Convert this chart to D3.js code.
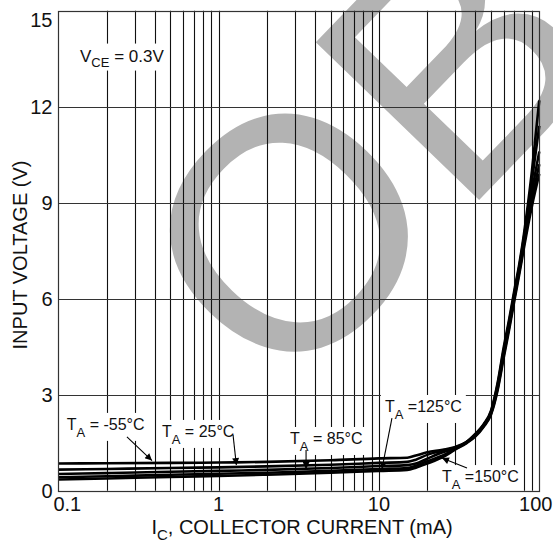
<!DOCTYPE html>
<html>
<head>
<meta charset="utf-8">
<script src="https://cdn.jsdelivr.net/npm/d3@7"></script>
<style>
  body { margin: 0; background: #fff; }
  svg { display: block; font-family: "Liberation Sans", Arial, sans-serif; }
</style>
</head>
<body>
<div id="chart"></div>
<script>
// collector current (mA) sample points
var currents = [0.1, 0.2, 0.5, 1, 2, 5, 10, 15, 17, 20, 25, 30, 35, 40, 45, 50, 55, 60, 65, 70, 75, 80, 90, 100];

// input voltage (V) per temperature
var vMinus55 = [0.85, 0.86, 0.87, 0.88, 0.90, 0.95, 1.01, 1.03, 1.10, 1.20, 1.28, 1.37, 1.52, 1.78, 2.08, 2.50, 3.38, 4.48, 5.38, 6.28, 7.08, 7.98, 10.0, 12.2];
var v25 = [0.66, 0.68, 0.71, 0.73, 0.76, 0.81, 0.87, 0.90, 0.97, 1.12, 1.25, 1.35, 1.51, 1.76, 2.06, 2.47, 3.32, 4.40, 5.30, 6.20, 7.00, 7.88, 9.7, 11.4];
var v85 = [0.52, 0.55, 0.59, 0.62, 0.65, 0.71, 0.77, 0.80, 0.85, 1.00, 1.20, 1.33, 1.50, 1.74, 2.04, 2.44, 3.26, 4.32, 5.22, 6.12, 6.92, 7.76, 9.35, 10.6];
var v125 = [0.42, 0.45, 0.50, 0.53, 0.56, 0.62, 0.68, 0.71, 0.78, 0.92, 1.10, 1.31, 1.49, 1.72, 2.02, 2.41, 3.20, 4.24, 5.14, 6.04, 6.84, 7.66, 9.1, 10.2];
var v150 = [0.35, 0.38, 0.43, 0.46, 0.50, 0.56, 0.62, 0.65, 0.72, 0.85, 1.05, 1.29, 1.48, 1.70, 2.00, 2.38, 3.15, 4.16, 5.06, 5.96, 6.76, 7.56, 8.9, 9.9];

var series = [vMinus55, v25, v85, v125, v150];

var xTicks = [0.1, 1, 10, 100];
var xTickLabels = ["0.1", "1", "10", "100"];
var yTicks = [0, 3, 6, 9, 12, 15];

// annotation labels: [text, sub, rest, labelI, labelV, tailI, tailV, tipI, tipV]
var tempLabels = [
    ["T", "A", " = -55°C", 0.113, 1.90, 0.268, 1.68, 0.384, 0.94],
    ["T", "A", " = 25°C", 0.443, 1.68, 1.23, 1.74, 1.29, 0.80],
    ["T", "A", " = 85°C", 2.79, 1.46, 3.51, 1.27, 3.51, 0.68],
    ["T", "A", " =125°C", 10.9, 2.46, 12.05, 2.27, 10.44, 0.68],
    ["T", "A", " =150°C", 24.7, 0.27, 35.4, 0.71, 24.7, 1.02]
];

var width = 553,
    height = 542;

var x = d3.scaleLog().domain([0.1, 100]).range([58.3, 539.3]);
var y = d3.scaleLinear().domain([0, 15]).range([490.7, 10.7]);

var svg = d3.select("#chart")
    .append("svg")
    .attr("width", width)
    .attr("height", height);

function crisp(v) { return Math.round(v) + 0.5; }

// watermark
svg.append("text")
    .attr("transform", "translate(282,404) rotate(-46)")
    .style("font-size", "330px")
    .style("fill", "#b3b3b3")
    .text("OBSOLETE");

// grid
var vGrid = [];
[0.1, 1, 10].forEach(function (d) {
    for (var k = 2; k <= 9; k++) vGrid.push(d * k);
});
vGrid.push(1, 10);

svg.append("g").selectAll("line")
    .data(vGrid)
    .enter().append("line")
    .attr("x1", d => crisp(x(d)))
    .attr("x2", d => crisp(x(d)))
    .attr("y1", y(15))
    .attr("y2", y(0))
    .attr("stroke", "#111")
    .attr("stroke-width", 1.1);

svg.append("g").selectAll("line")
    .data([3, 6, 9, 12])
    .enter().append("line")
    .attr("x1", x(0.1))
    .attr("x2", x(100))
    .attr("y1", d => crisp(y(d)))
    .attr("y2", d => crisp(y(d)))
    .attr("stroke", "#333")
    .attr("stroke-width", 1.1);

// labels group (white boxes behind text)
var labelG = svg.append("g");

function addLabel(main, sub, rest, px, py, size, subSize, subDy) {
    var g = labelG.append("g");
    var t = g.append("text")
        .attr("x", px)
        .attr("y", py)
        .style("font-size", size + "px")
        .style("fill", "#111");
    t.append("tspan").text(main);
    t.append("tspan").attr("dy", subDy).style("font-size", subSize + "px").text(sub);
    t.append("tspan").attr("dy", -subDy).text(rest);
    var bb = t.node().getBBox();
    g.insert("rect", "text")
        .attr("x", bb.x - 4)
        .attr("y", bb.y - 3)
        .attr("width", bb.width + 8)
        .attr("height", bb.height + 4)
        .attr("fill", "#fff");
}

addLabel("V", "CE", " = 0.3V", x(0.1366), y(13.41), 17, 13, 5);

tempLabels.forEach(function (d) {
    addLabel(d[0], d[1], d[2], x(d[3]), y(d[4]), 16, 13, 7);
});

// curves
var line = d3.line()
    .x((d, i) => x(currents[i]))
    .y(d => y(d))
    .curve(d3.curveMonotoneX);

svg.append("g").selectAll("path")
    .data(series)
    .enter().append("path")
    .attr("d", line)
    .attr("fill", "none")
    .attr("stroke", "#000")
    .attr("stroke-width", 2.6);

// arrows
svg.append("defs").append("marker")
    .attr("id", "arrow")
    .attr("viewBox", "0 0 10 10")
    .attr("refX", 10)
    .attr("refY", 5)
    .attr("markerWidth", 9)
    .attr("markerHeight", 7)
    .attr("markerUnits", "userSpaceOnUse")
    .attr("orient", "auto")
    .append("path")
    .attr("d", "M0,0L10,5L0,10Z")
    .attr("fill", "#000");

svg.append("g").selectAll("line")
    .data(tempLabels)
    .enter().append("line")
    .attr("x1", d => x(d[5]))
    .attr("y1", d => y(d[6]))
    .attr("x2", d => x(d[7]))
    .attr("y2", d => y(d[8]))
    .attr("stroke", "#000")
    .attr("stroke-width", 1.1)
    .attr("marker-end", "url(#arrow)");

// frame
svg.append("rect")
    .attr("x", crisp(x(0.1)))
    .attr("y", crisp(y(15)))
    .attr("width", Math.round(x(100)) - Math.round(x(0.1)))
    .attr("height", Math.round(y(0)) - Math.round(y(15)))
    .attr("fill", "none")
    .attr("stroke", "#333")
    .attr("stroke-width", 1.2);

// tick labels
svg.append("g").selectAll("text")
    .data(yTicks)
    .enter().append("text")
    .attr("x", 52.5)
    .attr("y", d => d == 15 ? y(d) + 16 : y(d) + 7.3)
    .attr("text-anchor", "end")
    .style("font-size", "20px")
    .style("fill", "#111")
    .text(d => d);

svg.append("g").selectAll("text")
    .data(xTicks)
    .enter().append("text")
    .attr("x", (d, i) => x(d) + (i == 0 ? 9 : (i == xTicks.length - 1 ? -3.5 : 0)))
    .attr("y", 511)
    .attr("text-anchor", "middle")
    .style("font-size", "20px")
    .style("fill", "#111")
    .text((d, i) => xTickLabels[i]);

// axis titles
var xt = svg.append("text")
    .attr("x", 302)
    .attr("y", 534)
    .attr("text-anchor", "middle")
    .style("font-size", "20px")
    .style("fill", "#111");
xt.append("tspan").text("I");
xt.append("tspan").attr("dy", 6).style("font-size", "15px").text("C");
xt.append("tspan").attr("dy", -6).text(", COLLECTOR CURRENT (mA)");

svg.append("text")
    .attr("transform", "translate(27,255) rotate(-90)")
    .attr("text-anchor", "middle")
    .style("font-size", "20px")
    .style("fill", "#111")
    .text("INPUT VOLTAGE (V)");
</script>
</body>
</html>
